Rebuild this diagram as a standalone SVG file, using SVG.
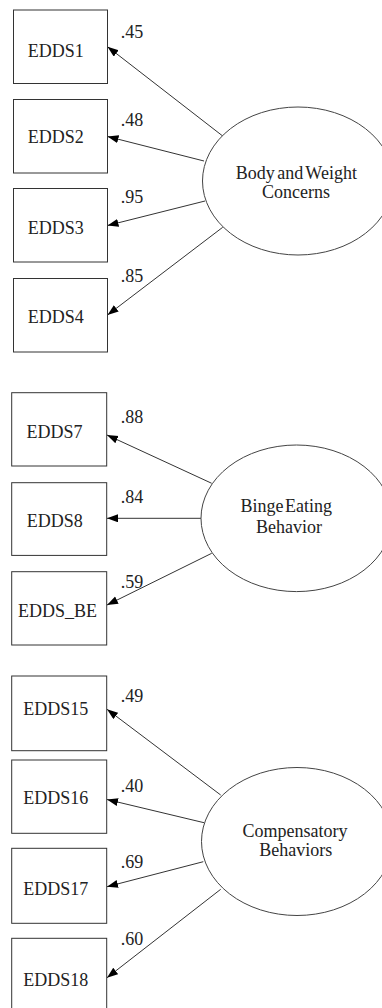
<svg xmlns="http://www.w3.org/2000/svg" width="382" height="1008" viewBox="0 0 382 1008">
<defs>
<style>
.box{fill:#fff;stroke:#333;stroke-width:1}
.lat{fill:#fff;stroke:#444;stroke-width:1}
.t{font-family:'Liberation Serif','Times New Roman',Times,serif;font-size:18px;fill:#222}
.m{text-anchor:middle}
.c{fill:none;stroke:#333;stroke-width:1;marker-end:url(#ah)}
</style>
<marker id="ah" markerUnits="userSpaceOnUse" markerWidth="12" markerHeight="9" refX="11" refY="4" orient="auto">
<path d="M0,0 L11,4 L0,8 z" fill="#000"/>
</marker>
</defs>
<rect width="382" height="1008" fill="#fff"/>
<g id="connectors">
<path class="c" d="M222.7,136 L107.5,46.7"/>
<path class="c" d="M204,161 L107.5,136.5"/>
<path class="c" d="M205,201 L107.5,225.5"/>
<path class="c" d="M222.7,227.3 L107.5,315"/>
<path class="c" d="M211.7,483.3 L107,435"/>
<path class="c" d="M201,518.3 L107,518.3"/>
<path class="c" d="M211.7,553.3 L107,605"/>
<path class="c" d="M220.7,795 L107,709.3"/>
<path class="c" d="M204,822.7 L107,799.5"/>
<path class="c" d="M203.3,861.7 L107,886.7"/>
<path class="c" d="M220.7,889.3 L107,977.7"/>
<text class="t" x="120.7" y="37.5">.45</text>
<text class="t" x="120.7" y="126">.48</text>
<text class="t" x="120.7" y="203.3">.95</text>
<text class="t" x="120.7" y="281.7">.85</text>
<text class="t" x="120.7" y="423.3">.88</text>
<text class="t" x="120.7" y="503.3">.84</text>
<text class="t" x="120.7" y="588.3">.59</text>
<text class="t" x="120.7" y="701.7">.49</text>
<text class="t" x="120.7" y="791.7">.40</text>
<text class="t" x="120.7" y="868.3">.69</text>
<text class="t" x="120.7" y="945">.60</text>
</g>
<g id="EDDS1"><rect class="box" x="13.5" y="10" width="94" height="73.5"/><text class="t m" x="55.7" y="57">EDDS1</text></g>
<g id="EDDS2"><rect class="box" x="13.5" y="99.5" width="94" height="73.5"/><text class="t m" x="55.7" y="143.3">EDDS2</text></g>
<g id="EDDS3"><rect class="box" x="13.5" y="188.5" width="94" height="73.5"/><text class="t m" x="55.7" y="234">EDDS3</text></g>
<g id="EDDS4"><rect class="box" x="13.5" y="278.5" width="94" height="73.5"/><text class="t m" x="55.7" y="323.3">EDDS4</text></g>
<g id="BodyWeight"><ellipse class="lat" cx="298" cy="181" rx="95.5" ry="74"/><text class="t m" x="296.3" y="179.3" word-spacing="-2">Body and Weight</text><text class="t m" x="296" y="198.3">Concerns</text></g>
<g id="EDDS7"><rect class="box" x="11.7" y="392.7" width="95" height="73.3"/><text class="t m" x="54.5" y="437.7">EDDS7</text></g>
<g id="EDDS8"><rect class="box" x="11.7" y="482.7" width="95" height="72.7"/><text class="t m" x="54.7" y="526.7">EDDS8</text></g>
<g id="EDDS_BE"><rect class="box" x="11.7" y="571.7" width="95" height="73.3"/><text class="t m" x="57.5" y="616.7">EDDS_BE</text></g>
<g id="BingeEating"><ellipse class="lat" cx="296.5" cy="518.3" rx="95.5" ry="73.3"/><text class="t m" x="286.2" y="511.7" word-spacing="-3">Binge Eating</text><text class="t m" x="289" y="532.7">Behavior</text></g>
<g id="EDDS15"><rect class="box" x="11.7" y="676" width="95" height="74.7"/><text class="t m" x="55.8" y="715">EDDS15</text></g>
<g id="EDDS16"><rect class="box" x="11.7" y="760" width="95" height="73.3"/><text class="t m" x="55.8" y="804.3">EDDS16</text></g>
<g id="EDDS17"><rect class="box" x="11.7" y="848.3" width="95" height="75"/><text class="t m" x="55.8" y="895">EDDS17</text></g>
<g id="EDDS18"><rect class="box" x="11.7" y="938.3" width="95" height="75"/><text class="t m" x="55.8" y="985.7">EDDS18</text></g>
<g id="Compensatory"><ellipse class="lat" cx="297" cy="841.5" rx="95.5" ry="74"/><text class="t m" x="295" y="837">Compensatory</text><text class="t m" x="295.8" y="856">Behaviors</text></g>
</svg>
